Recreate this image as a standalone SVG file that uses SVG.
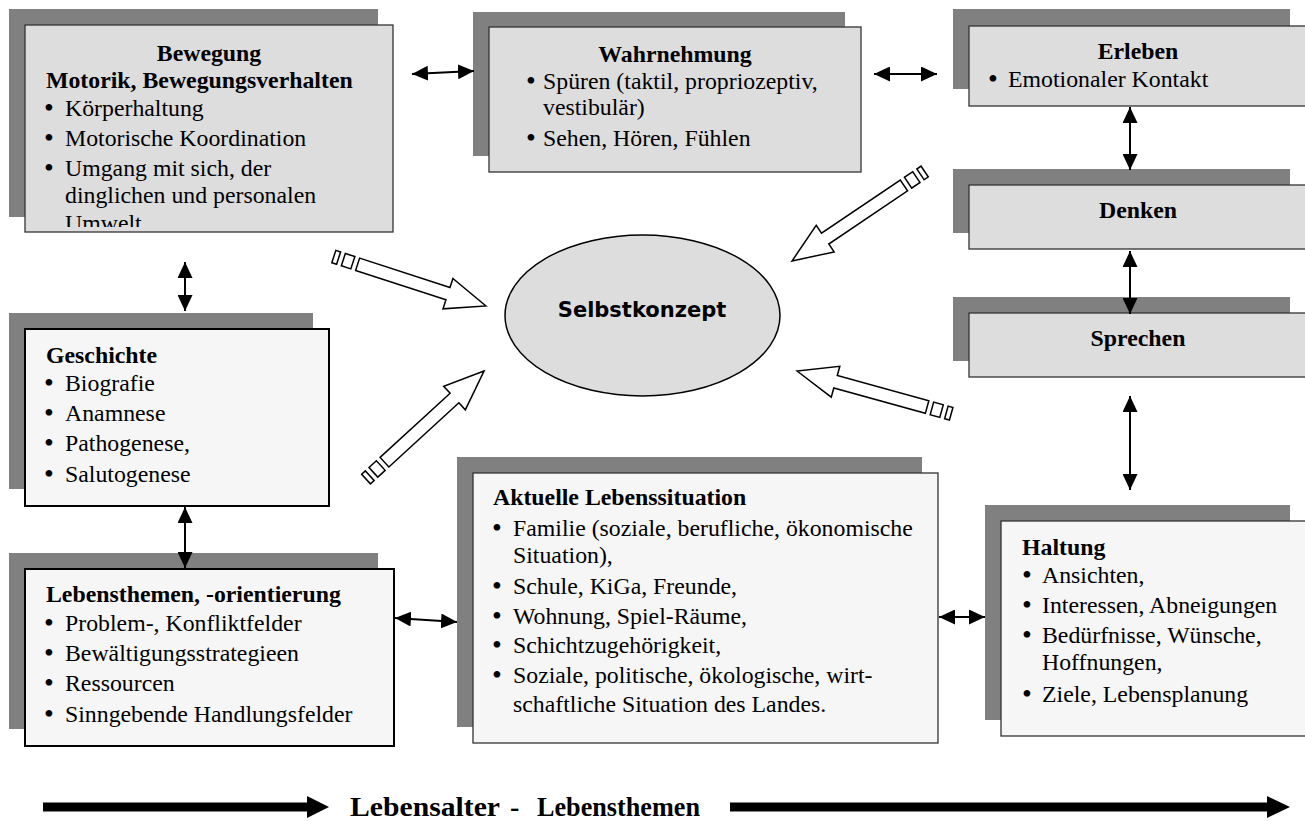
<svg xmlns="http://www.w3.org/2000/svg" width="1305" height="821" viewBox="0 0 1305 821">
<style>
.sh{fill:#808080}
.bx1{fill:#dddddd;stroke:#333;stroke-width:1.3}
.bx2{fill:#f6f6f6;stroke:#000;stroke-width:2}
.bx3{fill:#f6f6f6;stroke:#333;stroke-width:1.3}
.t{font-family:"Liberation Serif","Times New Roman",serif;font-size:23.8px;fill:#000}
.bu{font-size:28px}
.b{font-weight:bold}
.c{text-anchor:middle}
.con{stroke:#000;stroke-width:2;fill:none;marker-start:url(#ah);marker-end:url(#ah)}
.blk{fill:#fff;stroke:#000;stroke-width:1.5;stroke-linejoin:miter}
</style>
<defs>
<marker id="ah" viewBox="0 0 16 15" refX="16" refY="7.5" markerWidth="16" markerHeight="15" markerUnits="userSpaceOnUse" orient="auto-start-reverse">
<path d="M0,0 L16,7.5 L0,15 z" fill="#000"/>
</marker>
<clipPath id="clipBew"><rect x="25" y="25" width="368" height="202"/></clipPath>
<g id="blockArrow">
<path class="blk" d="M0,0 L-40,-16 L-40,-6.5 L-135,-6.5 L-135,6.5 L-40,6.5 L-40,16 Z"/>
<rect class="blk" x="-150" y="-6.5" width="10" height="13"/>
<rect class="blk" x="-160" y="-6.5" width="5" height="13"/>
</g>
</defs>
<rect width="1305" height="821" fill="#fff"/>

<g id="bewegung">
<rect class="sh" x="9" y="9" width="369" height="208"/>
<rect class="bx1" x="25" y="25" width="368" height="207"/>
<g clip-path="url(#clipBew)">
<text class="t b c" x="209" y="61">Bewegung</text>
<text class="t b" x="46" y="88">Motorik, Bewegungsverhalten</text>
<text class="t bu" x="44" y="117">•</text><text class="t" x="65" y="116">Körperhaltung</text>
<text class="t bu" x="44" y="147">•</text><text class="t" x="65" y="146">Motorische Koordination</text>
<text class="t bu" x="44" y="177">•</text><text class="t" x="65" y="176">Umgang mit sich, der</text>
<text class="t" x="65" y="203">dinglichen und personalen</text>
<text class="t" x="65" y="231">Umwelt</text>
</g>
</g>

<g id="wahrnehmung">
<rect class="sh" x="473" y="12" width="372" height="144"/>
<rect class="bx1" x="489" y="27" width="372" height="145"/>
<text class="t b c" x="675" y="62">Wahrnehmung</text>
<text class="t bu" x="526" y="90">•</text><text class="t" x="543" y="89">Spüren (taktil, propriozeptiv,</text>
<text class="t" x="543" y="115">vestibulär)</text>
<text class="t bu" x="526" y="147">•</text><text class="t" x="543" y="146">Sehen, Hören, Fühlen</text>
</g>

<g id="erleben">
<rect class="sh" x="953" y="9" width="337" height="80"/>
<rect class="bx1" x="969" y="26" width="340" height="80"/>
<text class="t b c" x="1138" y="59">Erleben</text>
<text class="t bu" x="988" y="88">•</text><text class="t" x="1008" y="87">Emotionaler Kontakt</text>
</g>

<g id="denken">
<rect class="sh" x="953" y="169" width="337" height="64"/>
<rect class="bx1" x="969" y="185" width="340" height="64"/>
<text class="t b c" x="1138" y="218">Denken</text>
</g>

<g id="sprechen">
<rect class="sh" x="953" y="297" width="337" height="64"/>
<rect class="bx1" x="969" y="313" width="340" height="64"/>
<text class="t b c" x="1138" y="346">Sprechen</text>
</g>

<g id="selbstkonzept">
<ellipse cx="642.5" cy="315.5" rx="137.5" ry="80.5" fill="#dddddd" stroke="#000" stroke-width="1.5"/>
<text x="642" y="317" text-anchor="middle" style="font-family:'DejaVu Sans',Verdana,sans-serif;font-weight:bold;font-size:21px">Selbstkonzept</text>
</g>

<g id="geschichte">
<rect class="sh" x="9" y="313" width="304" height="176"/>
<rect class="bx2" x="25" y="329" width="304" height="177"/>
<text class="t b" x="46" y="363">Geschichte</text>
<text class="t bu" x="44" y="392">•</text><text class="t" x="65" y="391">Biografie</text>
<text class="t bu" x="44" y="422">•</text><text class="t" x="65" y="421">Anamnese</text>
<text class="t bu" x="44" y="452">•</text><text class="t" x="65" y="451">Pathogenese,</text>
<text class="t bu" x="44" y="483">•</text><text class="t" x="65" y="482">Salutogenese</text>
</g>

<g id="lebensthemen">
<rect class="sh" x="9" y="553" width="369" height="176"/>
<rect class="bx2" x="25" y="569" width="369" height="177"/>
<text class="t b" x="46" y="602">Lebensthemen, -orientierung</text>
<text class="t bu" x="44" y="632">•</text><text class="t" x="65" y="631">Problem-, Konfliktfelder</text>
<text class="t bu" x="44" y="662">•</text><text class="t" x="65" y="661">Bewältigungsstrategieen</text>
<text class="t bu" x="44" y="692">•</text><text class="t" x="65" y="691">Ressourcen</text>
<text class="t bu" x="44" y="723">•</text><text class="t" x="65" y="722">Sinngebende Handlungsfelder</text>
</g>

<g id="aktuelle">
<rect class="sh" x="457" y="457" width="465" height="270"/>
<rect class="bx3" x="473" y="473" width="465" height="270"/>
<text class="t b" x="493" y="505">Aktuelle Lebenssituation</text>
<text class="t bu" x="492" y="537">•</text><text class="t" x="513" y="536">Familie (soziale, berufliche, ökonomische</text>
<text class="t" x="513" y="563">Situation),</text>
<text class="t bu" x="492" y="595">•</text><text class="t" x="513" y="594">Schule, KiGa, Freunde,</text>
<text class="t bu" x="492" y="625">•</text><text class="t" x="513" y="624">Wohnung, Spiel-Räume,</text>
<text class="t bu" x="492" y="654">•</text><text class="t" x="513" y="653">Schichtzugehörigkeit,</text>
<text class="t bu" x="492" y="684">•</text><text class="t" x="513" y="683">Soziale, politische, ökologische, wirt-</text>
<text class="t" x="513" y="712">schaftliche Situation des Landes.</text>
</g>

<g id="haltung">
<rect class="sh" x="985" y="505" width="305" height="215"/>
<rect class="bx3" x="1001" y="521" width="308" height="215"/>
<text class="t b" x="1022" y="555">Haltung</text>
<text class="t bu" x="1022" y="584">•</text><text class="t" x="1042" y="583">Ansichten,</text>
<text class="t bu" x="1022" y="614">•</text><text class="t" x="1042" y="613">Interessen, Abneigungen</text>
<text class="t bu" x="1022" y="644">•</text><text class="t" x="1042" y="643">Bedürfnisse, Wünsche,</text>
<text class="t" x="1042" y="670">Hoffnungen,</text>
<text class="t bu" x="1022" y="703">•</text><text class="t" x="1042" y="702">Ziele, Lebensplanung</text>
</g>

<g id="timeline">
<rect x="43" y="802.5" width="266" height="9" fill="#000"/>
<polygon points="307,796 329,807 307,818" fill="#000"/>
<rect x="730" y="802.5" width="539" height="9" fill="#000"/>
<polygon points="1267,796 1290,807 1267,818" fill="#000"/>
<text class="t b" x="350" y="816" style="font-size:28px" textLength="150" lengthAdjust="spacingAndGlyphs">Lebensalter</text>
<text class="t b" x="510" y="816" style="font-size:28px">-</text>
<text class="t b" x="537" y="816" style="font-size:28px" textLength="163" lengthAdjust="spacingAndGlyphs">Lebensthemen</text>
</g>

<g id="connectors">
<line class="con" x1="412" y1="74" x2="474" y2="71"/>
<line class="con" x1="874" y1="74" x2="937" y2="74"/>
<line class="con" x1="1130" y1="107" x2="1130" y2="170"/>
<line class="con" x1="1130" y1="251" x2="1130" y2="314"/>
<line class="con" x1="1130" y1="396" x2="1130" y2="490"/>
<line class="con" x1="185" y1="262" x2="185" y2="311"/>
<line class="con" x1="185" y1="507" x2="185" y2="568"/>
<line class="con" x1="395" y1="618" x2="457" y2="622"/>
<line class="con" x1="939" y1="617" x2="985" y2="617"/>
<use href="#blockArrow" transform="translate(486,306) rotate(18)"/>
<use href="#blockArrow" transform="translate(484,371) rotate(-42.5)"/>
<use href="#blockArrow" transform="translate(792,261) rotate(146)"/>
<use href="#blockArrow" transform="translate(797,371) rotate(195.5)"/>
</g>
</svg>
